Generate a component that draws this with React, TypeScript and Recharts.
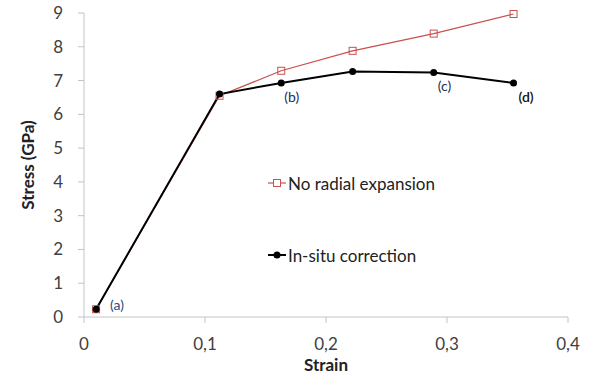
import React from 'react';
import { ComposedChart, Line, XAxis, YAxis, LabelList } from 'recharts';

// strain values shared by both curves
const strain = [0.01, 0.112, 0.163, 0.222, 0.289, 0.355];
// stress (GPa) without radial expansion
const stressNoExpansion = [0.23, 6.55, 7.29, 7.88, 8.39, 8.97];
// stress (GPa) with in-situ correction
const stressInSitu = [0.23, 6.6, 6.93, 7.27, 7.24, 6.93];
// state markers along the corrected curve
const stateTags = ['(a)', '', '(b)', '', '(c)', '(d)'];

const xTicks = [0, 0.1, 0.2, 0.3, 0.4];
const yTicks = [0, 1, 2, 3, 4, 5, 6, 7, 8, 9];

const RED = '#c9504d';
const AXIS = '#c4c4c4';
const FONT = 'Lato, "Open Sans", sans-serif';

const redData = strain.map((x, i) => ({ x, y: stressNoExpansion[i] }));
const blackData = strain.map((x, i) => ({ x, y: stressInSitu[i], tag: stateTags[i] }));

const tagOffset: Record<string, { dx: number; dy: number; color: string; weight: number }> = {
  '(a)': { dx: 14, dy: -5, color: '#2b4a80', weight: 400 },
  '(b)': { dx: 3, dy: 14, color: '#1e2f52', weight: 400 },
  '(c)': { dx: 4, dy: 13, color: '#1e2f52', weight: 400 },
  '(d)': { dx: 5, dy: 14, color: '#111', weight: 600 },
};

const TagLabel = (props: any) => {
  const { x, y, value } = props;
  if (!value) return null;
  const o = tagOffset[value];
  return (
    <text x={x + o.dx} y={y + o.dy} dominantBaseline="central" fontSize={14} fill={o.color} fontWeight={o.weight} fontFamily={FONT}>
      {value}
    </text>
  );
};

const SquareDot = (props: any) => {
  const { cx, cy } = props;
  return <rect x={cx - 3.5} y={cy - 3.5} width={7} height={7} fill="#fff" fillOpacity={0} stroke={RED} strokeWidth={1} />;
};

// legend sits inside the plot area, to the right of the rising branch
const LegendBox = () => (
  <div style={{ position: 'absolute', left: 268, top: 171, fontFamily: FONT, fontSize: 17, color: '#222', pointerEvents: 'none' }}>
    <div style={{ display: 'flex', alignItems: 'center', height: 24 }}>
      <svg width={18} height={12} style={{ marginRight: 2 }}>
        <line x1={0} y1={6} x2={18} y2={6} stroke={RED} strokeWidth={1.2} />
        <rect x={5.5} y={2.5} width={7} height={7} fill="#fff" stroke={RED} strokeWidth={1} />
      </svg>
      No radial expansion
    </div>
    <div style={{ display: 'flex', alignItems: 'center', height: 24, marginTop: 48 }}>
      <svg width={18} height={12} style={{ marginRight: 2 }}>
        <line x1={0} y1={6} x2={18} y2={6} stroke="#000" strokeWidth={2} />
        <circle cx={9} cy={6} r={3.5} fill="#000" />
      </svg>
      In-situ correction
    </div>
  </div>
);

export default function App() {
  const tickStyle = { fontSize: 17, fill: '#404040', fontFamily: FONT };
  return (
    <div style={{ position: 'absolute', left: 0, top: 0, width: 594, height: 378, background: '#fff' }}>
      <ComposedChart width={594} height={378} margin={{ top: 13, right: 26, bottom: 21, left: 0 }}>
        <XAxis
          type="number"
          dataKey="x"
          domain={[0, 0.4]}
          ticks={xTicks}
          allowDuplicatedCategory={false}
          height={40}
          stroke={AXIS}
          tickSize={6}
          tickMargin={15}
          tick={tickStyle}
          tickFormatter={(v: number) => String(v).replace('.', ',')}
          label={{ value: 'Strain', position: 'insideBottom', offset: -14, style: { fontSize: 17, fontWeight: 700, fill: '#222', fontFamily: FONT } }}
        />
        <YAxis
          type="number"
          dataKey="y"
          domain={[0, 9]}
          ticks={yTicks}
          width={84}
          stroke={AXIS}
          tickSize={6}
          tickMargin={15}
          tick={tickStyle}
          label={{ value: 'Stress (GPa)', angle: -90, position: 'insideLeft', offset: 28, style: { fontSize: 17, fontWeight: 700, fill: '#222', fontFamily: FONT, textAnchor: 'middle' } }}
        />
        <Line
          data={redData}
          dataKey="y"
          stroke={RED}
          strokeWidth={1.2}
          dot={<SquareDot />}
          activeDot={false}
          isAnimationActive={false}
        />
        <Line
          data={blackData}
          dataKey="y"
          stroke="#000"
          strokeWidth={2}
          dot={{ r: 3.5, fill: '#000', stroke: '#000', strokeWidth: 0 }}
          activeDot={false}
          isAnimationActive={false}
        >
          <LabelList dataKey="tag" content={<TagLabel />} />
        </Line>
      </ComposedChart>
      <LegendBox />
    </div>
  );
}
